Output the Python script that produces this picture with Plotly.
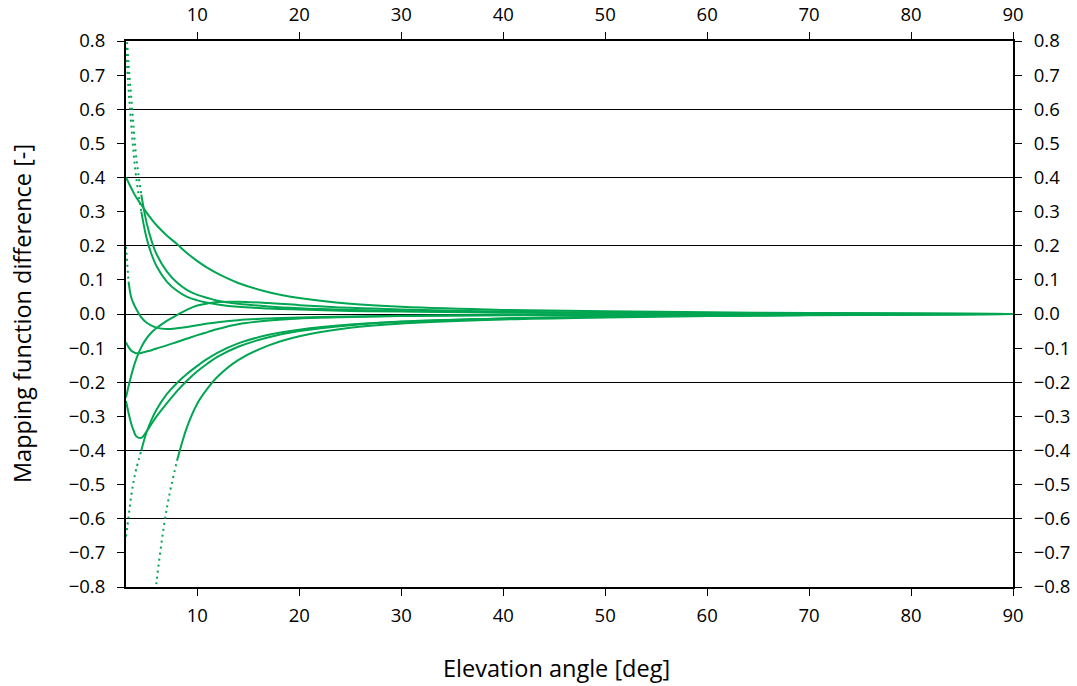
import plotly.graph_objects as go

# Elevation angle grid [deg]
elev = [3, 3.25, 3.5, 3.75, 4, 4.5, 5, 5.5, 6, 7, 8, 9, 10, 11, 12, 14, 17, 20, 25, 30, 40, 50, 60, 70, 80, 90]

# Mapping function differences [-]
curve_a = [0.78, 0.66, 0.56, 0.47, 0.40, 0.30, 0.225, 0.175, 0.14, 0.095, 0.068, 0.05, 0.04, 0.033, 0.028, 0.021,
           0.016, 0.013, 0.009, 0.007, 0.004, 0.003, 0.002, 0.001, 0.0005, 0.0]
curve_b = [0.85, 0.73, 0.64, 0.545, 0.46, 0.35, 0.27, 0.215, 0.175, 0.125, 0.092, 0.07, 0.056, 0.047, 0.039, 0.03,
           0.022, 0.017, 0.012, 0.009, 0.005, 0.003, 0.002, 0.001, 0.0005, 0.0]
curve_c = [0.40, 0.385, 0.37, 0.355, 0.342, 0.32, 0.298, 0.278, 0.26, 0.23, 0.205, 0.178, 0.155, 0.135, 0.118,
           0.091, 0.064, 0.047, 0.03, 0.021, 0.012, 0.008, 0.005, 0.003, 0.0015, 0.0]
curve_d = [0.197, 0.095, 0.05, 0.03, 0.015, -0.01, -0.025, -0.034, -0.04, -0.044, -0.042, -0.038, -0.033, -0.028,
           -0.024, -0.018, -0.013, -0.01, -0.007, -0.005, -0.003, -0.002, -0.0015, -0.001, -0.0005, 0.0]
curve_e = [-0.083, -0.097, -0.107, -0.112, -0.115, -0.114, -0.11, -0.106, -0.101, -0.092, -0.082, -0.072, -0.062,
           -0.053, -0.044, -0.03, -0.019, -0.013, -0.009, -0.006, -0.004, -0.003, -0.002, -0.001, -0.0005, 0.0]
curve_i = [-0.245, -0.212, -0.182, -0.155, -0.132, -0.097, -0.072, -0.054, -0.041, -0.02, -0.003, 0.013, 0.025,
           0.031, 0.035, 0.036, 0.032, 0.026, 0.018, 0.013, 0.007, 0.004, 0.003, 0.002, 0.001, 0.0]
curve_f = [-0.255, -0.29, -0.32, -0.342, -0.358, -0.363, -0.345, -0.322, -0.3, -0.262, -0.226, -0.195, -0.168,
           -0.145, -0.125, -0.096, -0.068, -0.05, -0.033, -0.023, -0.013, -0.008, -0.005, -0.003, -0.0015, 0.0]
curve_g = [-0.652, -0.595, -0.535, -0.49, -0.455, -0.4, -0.348, -0.31, -0.28, -0.235, -0.202, -0.175, -0.152,
           -0.131, -0.113, -0.086, -0.061, -0.046, -0.031, -0.022, -0.013, -0.008, -0.005, -0.003, -0.0015, 0.0]
curve_h = [None, None, None, None, None, None, None, -0.95, -0.785, -0.57, -0.43, -0.33, -0.262, -0.218, -0.183,
           -0.135, -0.092, -0.065, -0.04, -0.028, -0.016, -0.01, -0.006, -0.004, -0.002, 0.0]

# (values, index where the dotted steep part ends)
curves = [
    (curve_a, 5), (curve_b, 5), (curve_c, 0), (curve_d, 1), (curve_e, 0),
    (curve_i, 0), (curve_f, 0), (curve_g, 5), (curve_h, 10),
]

x_ticks = [10, 20, 30, 40, 50, 60, 70, 80, 90]
x_range = [3, 90]
y_range = [-0.8, 0.8]

GREEN = "#00a651"
FONT = "Open Sans"

fig = go.Figure()
for vals, k in curves:
    start = next(i for i, v in enumerate(vals) if v is not None)
    if k > start:
        fig.add_trace(go.Scatter(x=elev[start:k + 1], y=vals[start:k + 1], mode="lines",
                                 line=dict(color=GREEN, width=2, dash="2px,4px", shape="spline"),
                                 showlegend=False, hoverinfo="skip"))
        s = k
    else:
        s = start
    fig.add_trace(go.Scatter(x=elev[s:], y=vals[s:], mode="lines",
                             line=dict(color=GREEN, width=2, shape="spline"),
                             showlegend=False, hoverinfo="skip"))

# helper empty traces so overlay axes are drawn
fig.add_trace(go.Scatter(x=[], y=[], xaxis="x2", yaxis="y2", showlegend=False, hoverinfo="skip"))
fig.add_trace(go.Scatter(x=[], y=[], xaxis="x", yaxis="y3", showlegend=False, hoverinfo="skip"))

tickfont = dict(family=FONT, size=18.5, color="black")
common_x = dict(range=x_range, tickmode="array", tickvals=x_ticks, ticks="outside", ticklen=7,
                tickwidth=1, tickcolor="black", showline=True, linecolor="black", linewidth=2,
                showgrid=False, zeroline=False, tickfont=tickfont, automargin=False,
                ticklabelstandoff=4)
common_y = dict(range=y_range, tickmode="linear", tick0=0, dtick=0.1, tickformat=".1f", ticks="outside",
                ticklen=7, tickwidth=1, tickcolor="black", showline=True, linecolor="black", linewidth=2,
                showgrid=False, zeroline=False, tickfont=tickfont, automargin=False,
                ticklabelstandoff=8)

fig.update_layout(
    width=1077, height=686,
    margin=dict(l=126, r=64, t=41, b=99),
    plot_bgcolor="white", paper_bgcolor="white",
    xaxis=dict(**common_x, side="bottom", anchor="y"),
    xaxis2=dict(**common_x, side="top", overlaying="x", anchor="y"),
    yaxis=dict(**common_y, side="left", anchor="x"),
    yaxis2=dict(**common_y, side="right", overlaying="y", anchor="x"),
    yaxis3=dict(range=y_range, tickmode="linear", tick0=0, dtick=0.2, showgrid=True, gridcolor="black",
                gridwidth=1, showticklabels=False, ticks="", showline=False, zeroline=False,
                overlaying="y", anchor="x", automargin=False),
    annotations=[
        dict(text="Elevation angle [deg]", xref="paper", yref="paper", x=0.4853, y=-0.148,
             xanchor="center", yanchor="middle", showarrow=False,
             font=dict(family=FONT, size=23.5, color="black")),
        dict(text="Mapping function difference [-]", xref="paper", yref="paper", x=-0.1172, y=0.5,
             xanchor="center", yanchor="middle", textangle=-90, showarrow=False,
             font=dict(family=FONT, size=23.5, color="black")),
    ],
)

fig.write_html("out.html")
